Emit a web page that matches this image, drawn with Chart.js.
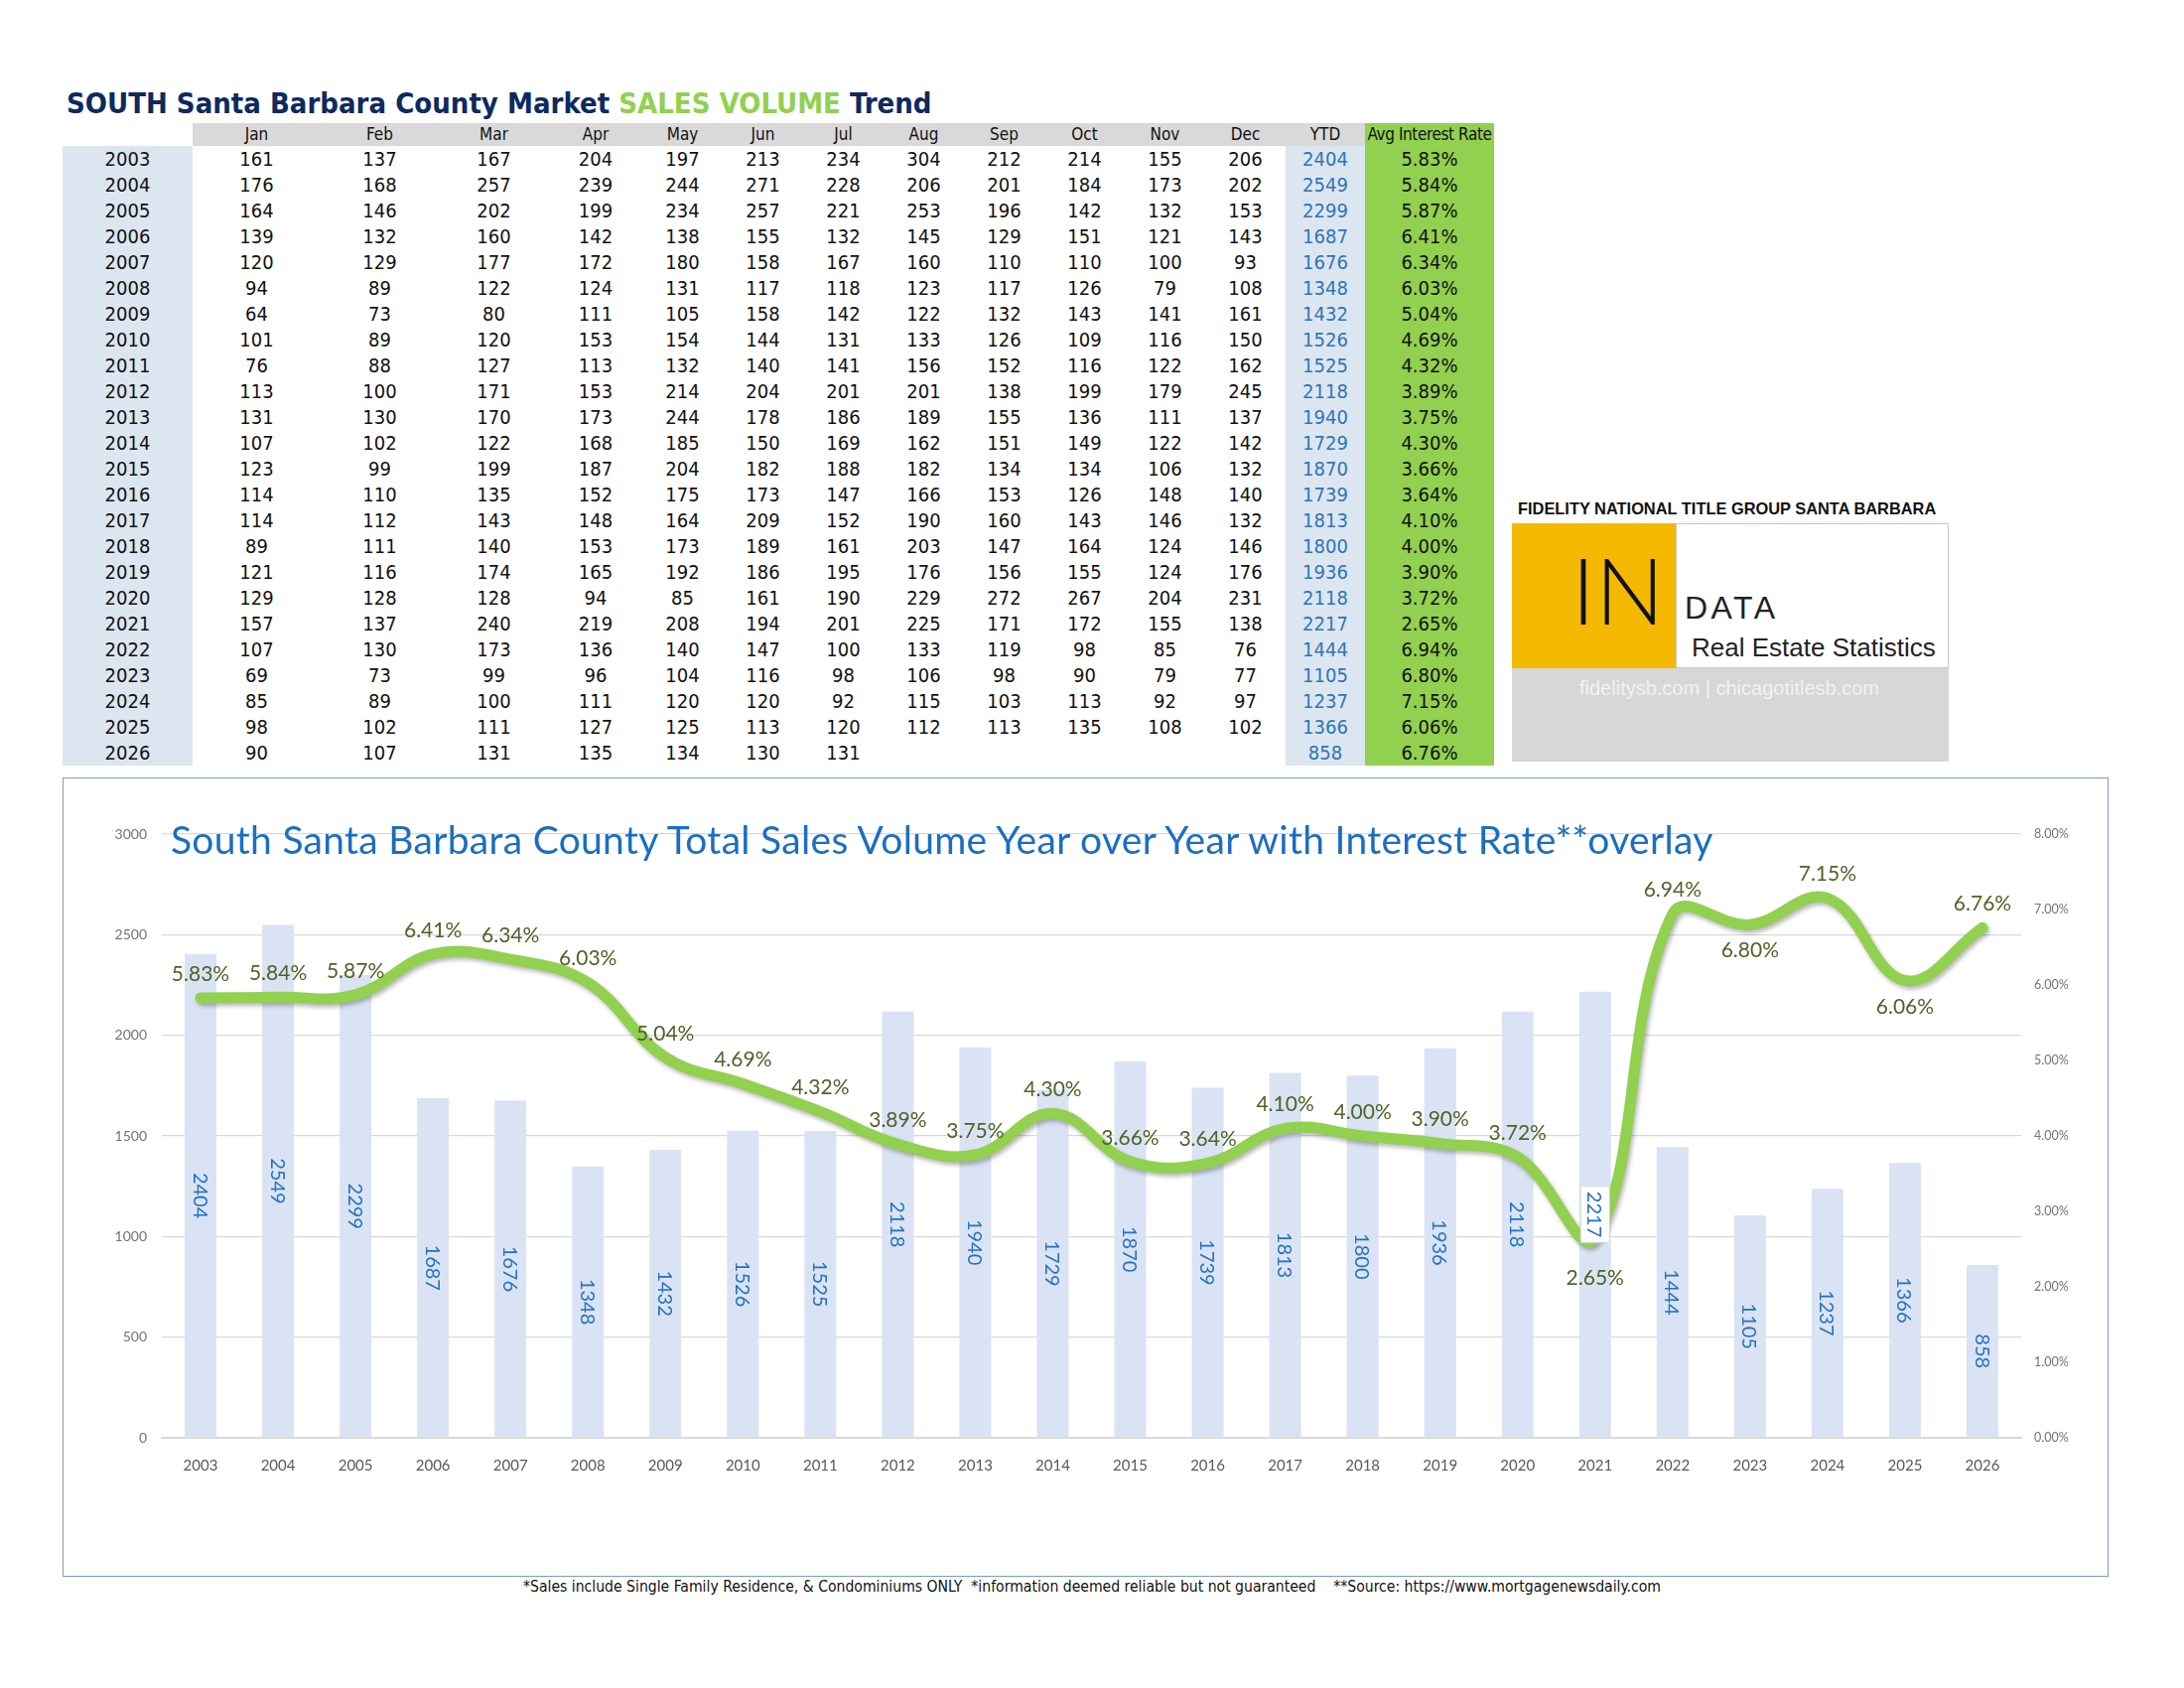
<!DOCTYPE html>
<html lang="en">

<head>
    <meta charset="UTF-8">
    <title>South Santa Barbara County Sales Volume Trend</title>
    <script src="https://cdn.jsdelivr.net/npm/chart.js@4.4.1/dist/chart.umd.min.js"></script>
    <style>
        body {
            margin: 0;
            width: 2200px;
            height: 1700px;
            background: #fff;
            position: relative;
            font-family: "Liberation Sans Narrow", "DejaVu Sans Condensed", sans-serif;
        }

        #pageTitle {
            position: absolute;
            left: 67px;
            top: 90px;
            font-size: 29px;
            line-height: 29px;
            font-weight: bold;
            color: #0d2a5e;
            white-space: nowrap;
        }

        #pageTitle span {
            color: #92d050;
        }

        #salesTable {
            position: absolute;
            left: 63px;
            top: 124px;
            border-collapse: collapse;
            table-layout: fixed;
            font-size: 20px;
            color: #111;
        }

        #salesTable td,
        #salesTable th {
            padding: 0;
            text-align: center;
            height: 26px;
            line-height: 26px;
            white-space: nowrap;
            overflow: hidden;
        }

        #salesTable th {
            height: 23px;
            line-height: 23px;
            font-size: 17px;
            font-weight: normal;
            background: #d9d9d9;
        }

        #salesTable th.blank {
            background: #fff;
        }

        #salesTable th.rate {
            background: #92d050;
            letter-spacing: -0.4px;
        }

        #salesTable td.year {
            background: #dce6f1;
        }

        #salesTable td.ytd {
            background: #dce6f1;
            color: #2e75b6;
        }

        #salesTable td.rate {
            background: #92d050;
        }

        #logoHead {
            position: absolute;
            left: 1529px;
            top: 502px;
            font-family: "Liberation Sans", sans-serif;
            font-weight: bold;
            font-size: 16.4px;
            line-height: 20px;
            color: #111;
            white-space: nowrap;
        }

        #logo {
            position: absolute;
            left: 1523px;
            top: 527px;
            width: 440px;
            height: 240px;
            font-family: "Liberation Sans", sans-serif;
        }

        #logo .yellow {
            position: absolute;
            left: 0;
            top: 0;
            width: 165px;
            height: 146px;
            background: #f5b800;
        }

        #logo .white {
            position: absolute;
            left: 165px;
            top: 0;
            width: 273px;
            height: 144px;
            border: 1px solid #c8c8c8;
            background: #fff;
        }

        #logo .grey {
            position: absolute;
            left: 0;
            top: 146px;
            width: 440px;
            height: 94px;
            background: #d7d7d7;
        }

        #logo .big {
            position: absolute;
            left: 60px;
            top: 12px;
            font-size: 92px;
            line-height: 110px;
            font-weight: 300;
            font-family: Lato, sans-serif;
            color: #111;
        }

        #logo .data {
            position: absolute;
            left: 174px;
            top: 67px;
            font-size: 32px;
            line-height: 36px;
            letter-spacing: 3.5px;
            color: #222;
        }

        #logo .res {
            position: absolute;
            left: 181px;
            top: 110px;
            font-size: 26px;
            line-height: 30px;
            color: #222;
        }

        #logo .web {
            position: absolute;
            left: 68px;
            top: 154px;
            font-size: 20px;
            line-height: 24px;
            color: #f2f2f2;
            white-space: nowrap;
        }

        #frame {
            position: absolute;
            left: 63px;
            top: 783px;
            width: 2061px;
            height: 805px;
            box-sizing: border-box;
            border: 1.5px solid #7f9dbd;
        }

        #chartBox {
            position: absolute;
            left: 63px;
            top: 783px;
            width: 2061px;
            height: 805px;
        }

        #chartTitle {
            position: absolute;
            left: 172px;
            top: 822px;
            font-family: Lato, sans-serif;
            font-size: 39px;
            line-height: 47px;
            letter-spacing: 0.3px;
            color: #1b6ec2;
            white-space: nowrap;
        }

        #footnote {
            position: absolute;
            left: 0;
            width: 2200px;
            top: 1589px;
            text-align: center;
            font-size: 15.6px;
            line-height: 18px;
            color: #111;
            white-space: pre;
        }
    </style>
</head>

<body>
    <div id="pageTitle">SOUTH Santa Barbara County Market <span>SALES VOLUME</span> Trend</div>

    <table id="salesTable">
        <colgroup id="cols"></colgroup>
        <thead id="tableHead"></thead>
        <tbody id="tableBody"></tbody>
    </table>

    <!-- logo block -->
    <div id="logoHead">FIDELITY NATIONAL TITLE GROUP SANTA BARBARA</div>
    <div id="logo">
        <div class="yellow"></div>
        <div class="white"></div>
        <div class="grey"></div>
        <div class="big">IN</div>
        <div class="data">DATA</div>
        <div class="res">Real Estate Statistics</div>
        <div class="web">fidelitysb.com | chicagotitlesb.com</div>
    </div>

    <div id="frame"></div>
    <div id="chartBox"><canvas id="volumeChart"></canvas></div>
    <div id="chartTitle">South Santa Barbara County Total Sales Volume Year over Year with Interest Rate**overlay</div>

    <div id="footnote">*Sales include Single Family Residence, &amp; Condominiums ONLY  *information deemed reliable but not guaranteed    **Source: https://www.mortgagenewsdaily.com</div>
</body>

<script>
    const years = ['2003', '2004', '2005', '2006', '2007', '2008', '2009', '2010', '2011', '2012', '2013', '2014',
        '2015', '2016', '2017', '2018', '2019', '2020', '2021', '2022', '2023', '2024', '2025', '2026'];

    const months = ['Jan', 'Feb', 'Mar', 'Apr', 'May', 'Jun', 'Jul', 'Aug', 'Sep', 'Oct', 'Nov', 'Dec'];

    // monthly closed sales, one row per year (2026 only through Jul)
    const monthlySales = [
        [161, 137, 167, 204, 197, 213, 234, 304, 212, 214, 155, 206],
        [176, 168, 257, 239, 244, 271, 228, 206, 201, 184, 173, 202],
        [164, 146, 202, 199, 234, 257, 221, 253, 196, 142, 132, 153],
        [139, 132, 160, 142, 138, 155, 132, 145, 129, 151, 121, 143],
        [120, 129, 177, 172, 180, 158, 167, 160, 110, 110, 100, 93],
        [94, 89, 122, 124, 131, 117, 118, 123, 117, 126, 79, 108],
        [64, 73, 80, 111, 105, 158, 142, 122, 132, 143, 141, 161],
        [101, 89, 120, 153, 154, 144, 131, 133, 126, 109, 116, 150],
        [76, 88, 127, 113, 132, 140, 141, 156, 152, 116, 122, 162],
        [113, 100, 171, 153, 214, 204, 201, 201, 138, 199, 179, 245],
        [131, 130, 170, 173, 244, 178, 186, 189, 155, 136, 111, 137],
        [107, 102, 122, 168, 185, 150, 169, 162, 151, 149, 122, 142],
        [123, 99, 199, 187, 204, 182, 188, 182, 134, 134, 106, 132],
        [114, 110, 135, 152, 175, 173, 147, 166, 153, 126, 148, 140],
        [114, 112, 143, 148, 164, 209, 152, 190, 160, 143, 146, 132],
        [89, 111, 140, 153, 173, 189, 161, 203, 147, 164, 124, 146],
        [121, 116, 174, 165, 192, 186, 195, 176, 156, 155, 124, 176],
        [129, 128, 128, 94, 85, 161, 190, 229, 272, 267, 204, 231],
        [157, 137, 240, 219, 208, 194, 201, 225, 171, 172, 155, 138],
        [107, 130, 173, 136, 140, 147, 100, 133, 119, 98, 85, 76],
        [69, 73, 99, 96, 104, 116, 98, 106, 98, 90, 79, 77],
        [85, 89, 100, 111, 120, 120, 92, 115, 103, 113, 92, 97],
        [98, 102, 111, 127, 125, 113, 120, 112, 113, 135, 108, 102],
        [90, 107, 131, 135, 134, 130, 131, null, null, null, null, null]
    ];

    const ytdTotals = [2404, 2549, 2299, 1687, 1676, 1348, 1432, 1526, 1525, 2118, 1940, 1729,
        1870, 1739, 1813, 1800, 1936, 2118, 2217, 1444, 1105, 1237, 1366, 858];

    // avg 30yr rate, percent
    const interestRates = [5.83, 5.84, 5.87, 6.41, 6.34, 6.03, 5.04, 4.69, 4.32, 3.89, 3.75, 4.30,
        3.66, 3.64, 4.10, 4.00, 3.90, 3.72, 2.65, 6.94, 6.80, 7.15, 6.06, 6.76];

    const volumeTicks = [0, 500, 1000, 1500, 2000, 2500, 3000];
    const rateTicks = [0, 1, 2, 3, 4, 5, 6, 7, 8];

    // ---------- table ----------
    const colWidths = [131, 129, 119, 111, 94, 81, 81, 81, 81, 81, 81, 81, 81, 80, 130];
    document.getElementById('cols').innerHTML = colWidths.map(w => '<col style="width:' + w + 'px">').join('');

    let head = '<tr><th class="blank"></th>';
    months.forEach(m => { head += '<th>' + m + '</th>'; });
    head += '<th>YTD</th><th class="rate">Avg Interest Rate</th></tr>';
    document.getElementById('tableHead').innerHTML = head;

    let body = '';
    years.forEach((yr, i) => {
        body += '<tr><td class="year">' + yr + '</td>';
        monthlySales[i].forEach(v => {
            body += '<td>' + (v === null ? '' : v) + '</td>';
        });
        body += '<td class="ytd">' + ytdTotals[i] + '</td>';
        body += '<td class="rate">' + interestRates[i].toFixed(2) + '%</td></tr>';
    });
    document.getElementById('tableBody').innerHTML = body;

    // ---------- chart ----------
    // soft drop shadow under the rate line
    const lineShadow = {
        id: 'lineShadow',
        beforeDatasetDraw(chart, args) {
            if (args.index !== 1) return;
            const ctx = chart.ctx;
            ctx.save();
            ctx.shadowColor = 'rgba(0, 0, 0, 0.28)';
            ctx.shadowBlur = 4;
            ctx.shadowOffsetX = 2;
            ctx.shadowOffsetY = 3;
        },
        afterDatasetDraw(chart, args) {
            if (args.index !== 1) return;
            chart.ctx.restore();
        }
    };

    // value labels: rotated totals inside bars, rates around the line
    const valueLabels = {
        id: 'valueLabels',
        afterDatasetsDraw(chart) {
            const ctx = chart.ctx;
            const bars = chart.getDatasetMeta(0).data;
            const points = chart.getDatasetMeta(1).data;

            ctx.save();
            ctx.font = '20px Lato';
            ctx.textAlign = 'center';
            ctx.textBaseline = 'middle';
            bars.forEach((bar, i) => {
                const text = String(ytdTotals[i]);
                ctx.save();
                ctx.translate(bar.x, (bar.y + bar.base) / 2);
                ctx.rotate(Math.PI / 2);
                if (i === 18) {
                    const w = ctx.measureText(text).width;
                    ctx.fillStyle = '#fff';
                    ctx.fillRect(-w / 2 - 5, -14.5, w + 10, 29);
                    ctx.strokeStyle = '#d9d9d9';
                    ctx.lineWidth = 1;
                    ctx.strokeRect(-w / 2 - 5, -14.5, w + 10, 29);
                }
                ctx.fillStyle = '#2372c0';
                ctx.fillText(text, 0, 1);
                ctx.restore();
            });

            const below = { 18: 41, 20: 26, 22: 27 };
            ctx.font = '21px Lato';
            ctx.fillStyle = '#4f6228';
            points.forEach((pt, i) => {
                const dy = below[i] !== undefined ? below[i] : -24;
                ctx.fillText(interestRates[i].toFixed(2) + '%', pt.x, pt.y + dy);
            });
            ctx.restore();
        }
    };

    const ctx = document.getElementById('volumeChart').getContext('2d');
    const volumeChart = new Chart(ctx, {
        data: {
            labels: years,
            datasets: [{
                    type: 'bar',
                    label: 'YTD Sales',
                    data: ytdTotals,
                    backgroundColor: '#dae3f3',
                    barPercentage: 0.41,
                    categoryPercentage: 1.0,
                    yAxisID: 'y',
                    order: 1,
                },
                {
                    type: 'line',
                    label: 'Avg Interest Rate',
                    data: interestRates,
                    borderColor: '#92d050',
                    borderWidth: 11,
                    tension: 0.4,
                    pointRadius: 0,
                    borderCapStyle: 'round',
                    borderJoinStyle: 'round',
                    yAxisID: 'y1',
                    order: 0,
                }
            ]
        },
        options: {
            responsive: true,
            maintainAspectRatio: false,
            animation: false,
            devicePixelRatio: 1,
            layout: {
                padding: { top: 57, bottom: 0, left: 0, right: 0 }
            },
            plugins: {
                legend: { display: false },
                tooltip: { enabled: false },
                title: { display: false }
            },
            scales: {
                x: {
                    grid: { display: false },
                    border: { display: true, color: '#d9d9d9', width: 2 },
                    ticks: {
                        color: '#595959',
                        font: { family: 'Lato', size: 15 },
                        padding: 11,
                        maxRotation: 0,
                    },
                    afterFit: scale => { scale.height = 140; }
                },
                y: {
                    position: 'left',
                    min: 0,
                    max: 3000,
                    afterBuildTicks: scale => { scale.ticks = volumeTicks.map(v => ({ value: v })); },
                    grid: { color: '#d9d9d9', lineWidth: 1.2, drawTicks: false },
                    border: { display: false },
                    ticks: {
                        color: '#737373',
                        font: { family: 'Lato', size: 14 },
                        padding: 15,
                        callback: v => String(v)
                    },
                    afterFit: scale => { scale.width = 100; }
                },
                y1: {
                    position: 'right',
                    min: 0,
                    max: 8,
                    afterBuildTicks: scale => { scale.ticks = rateTicks.map(v => ({ value: v })); },
                    grid: { display: false, drawTicks: false },
                    border: { display: false },
                    ticks: {
                        color: '#737373',
                        font: { family: 'Lato', size: 12.5 },
                        padding: 13,
                        callback: v => v.toFixed(2) + '%'
                    },
                    afterFit: scale => { scale.width = 88; }
                }
            }
        },
        plugins: [lineShadow, valueLabels]
    });
</script>

</html>
